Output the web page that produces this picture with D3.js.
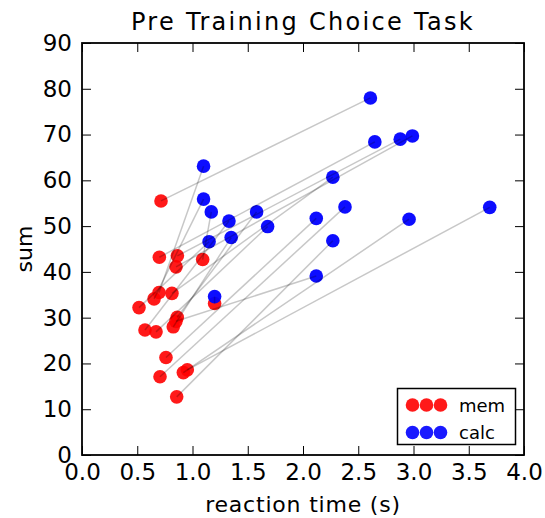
<!DOCTYPE html>
<html>
<head>
<meta charset="utf-8">
<script src="https://cdn.jsdelivr.net/npm/d3@7"></script>
<style>
  body { margin: 0; background: #fff; }
  svg text { font-family: "DejaVu Sans", sans-serif; fill: #000; }
</style>
</head>
<body>
<svg id="chart" width="545" height="518"></svg>
<script>
// ----------------- DATA -----------------
var memTime = [0.715, 0.697, 0.700, 0.863, 0.851, 1.092, 0.652, 0.814, 0.516, 1.200,
               0.862, 0.826, 0.570, 0.670, 0.760, 0.953, 0.917, 0.706, 0.857, 0.850];
var memSum  = [55.5, 35.5, 43.2, 43.5, 41.1, 42.7, 34.1, 35.3, 32.2, 33.1,
               30.1, 28.0, 27.3, 26.9, 21.3, 18.6, 18.0, 17.1, 12.7, 29.2];
var calcTime = [2.61, 1.10, 2.65, 2.88, 2.99, 1.17, 1.10, 2.27, 1.15, 1.20,
                1.58, 1.35, 1.33, 1.68, 2.12, 3.69, 2.96, 2.38, 2.27, 2.12];
var calcSum  = [78.0, 63.1, 68.4, 69.0, 69.7, 53.1, 55.9, 60.7, 46.6, 34.6,
                53.1, 47.5, 51.1, 49.9, 51.7, 54.1, 51.5, 54.2, 46.8, 39.1];
var xTicks = [0.0, 0.5, 1.0, 1.5, 2.0, 2.5, 3.0, 3.5, 4.0];
var yTicks = [0, 10, 20, 30, 40, 50, 60, 70, 80, 90];
var legendLabels = ['mem', 'calc'];
var legendColors = ['#ff0000', '#0000ff'];

// ----------------- SETUP -----------------
var margin = {top: 43, right: 21, bottom: 63, left: 82};
var svg = d3.select('#chart');
var width = +svg.attr('width'), height = +svg.attr('height');

var x = d3.scaleLinear().domain([0, 4]).range([margin.left, width - margin.right]);
var y = d3.scaleLinear().domain([0, 90]).range([height - margin.bottom, margin.top]);

var g = svg.append('g');

// ----------------- MARKS -----------------
var pts = memTime.map(function(t, i) {
    return {mx: t, my: memSum[i], cx: calcTime[i], cy: calcSum[i]};
});

g.selectAll('circle.mem').data(pts).enter().append('circle')
    .attr('class', 'mem')
    .attr('cx', d => x(d.mx)).attr('cy', d => y(d.my))
    .attr('r', 6.8).attr('fill', '#ff0000').attr('fill-opacity', 0.9);

g.selectAll('circle.calc').data(pts).enter().append('circle')
    .attr('class', 'calc')
    .attr('cx', d => x(d.cx)).attr('cy', d => y(d.cy))
    .attr('r', 6.8).attr('fill', '#0000ff').attr('fill-opacity', 0.95);

g.selectAll('line.pair').data(pts).enter().append('line')
    .attr('class', 'pair')
    .attr('x1', d => x(d.mx)).attr('y1', d => y(d.my))
    .attr('x2', d => x(d.cx)).attr('y2', d => y(d.cy))
    .attr('stroke', '#000').attr('stroke-opacity', 0.22).attr('stroke-width', 1.5);

// ----------------- AXES -----------------
var tickLen = 9;
var xAxisB = d3.axisBottom(x).tickValues(xTicks).tickFormat(d3.format('.1f')).tickSizeInner(-tickLen).tickSizeOuter(0).tickPadding(9);
var xAxisT = d3.axisTop(x).tickValues(xTicks).tickFormat('').tickSizeInner(-tickLen).tickSizeOuter(0);
var yAxisL = d3.axisLeft(y).tickValues(yTicks).tickFormat(d3.format('d')).tickSizeInner(-tickLen).tickSizeOuter(0).tickPadding(10);
var yAxisR = d3.axisRight(y).tickValues(yTicks).tickFormat('').tickSizeInner(-tickLen).tickSizeOuter(0);

function styleAxis(sel) {
    sel.select('.domain').remove();
    sel.selectAll('line').attr('stroke', '#000').attr('stroke-width', 1);
    sel.selectAll('text').style('font-size', '23px').attr('fill', '#000');
}

svg.append('g').attr('transform', 'translate(0,' + y(0) + ')').call(xAxisB).call(styleAxis);
svg.append('g').attr('transform', 'translate(0,' + y(90) + ')').call(xAxisT).call(styleAxis);
svg.append('g').attr('transform', 'translate(' + x(0) + ',0)').call(yAxisL).call(styleAxis);
svg.append('g').attr('transform', 'translate(' + x(4) + ',0)').call(yAxisR).call(styleAxis);

// frame
svg.append('rect')
    .attr('x', x(0)).attr('y', y(90))
    .attr('width', x(4) - x(0)).attr('height', y(0) - y(90))
    .attr('fill', 'none').attr('stroke', '#000').attr('stroke-width', 1.8);

// titles
svg.append('text').attr('x', (x(0) + x(4)) / 2).attr('y', 30)
    .attr('text-anchor', 'middle').style('font-size', '24px').style('letter-spacing', '2.3px')
    .text('Pre Training Choice Task');
svg.append('text').attr('x', (x(0) + x(4)) / 2).attr('y', 512)
    .attr('text-anchor', 'middle').style('font-size', '22px').style('letter-spacing', '0.8px')
    .text('reaction time (s)');
svg.append('text')
    .attr('transform', 'translate(32,' + ((y(0) + y(90)) / 2) + ') rotate(-90)')
    .attr('text-anchor', 'middle').style('font-size', '22px')
    .text('sum');

// ----------------- LEGEND -----------------
var lg = svg.append('g');
lg.append('rect').attr('x', 397.5).attr('y', 388.5).attr('width', 118).attr('height', 56)
    .attr('fill', '#fff').attr('stroke', '#000').attr('stroke-width', 1.5);
legendLabels.forEach(function(lab, i) {
    var ly = 405 + i * 27.5;
    [412.5, 426.5, 440.5].forEach(function(lx) {
        lg.append('circle').attr('cx', lx).attr('cy', ly).attr('r', 6.8)
            .attr('fill', legendColors[i]).attr('fill-opacity', 0.9);
    });
    lg.append('text').attr('x', 459).attr('y', ly + 6.5).style('font-size', '18px').text(lab);
});
</script>
</body>
</html>
